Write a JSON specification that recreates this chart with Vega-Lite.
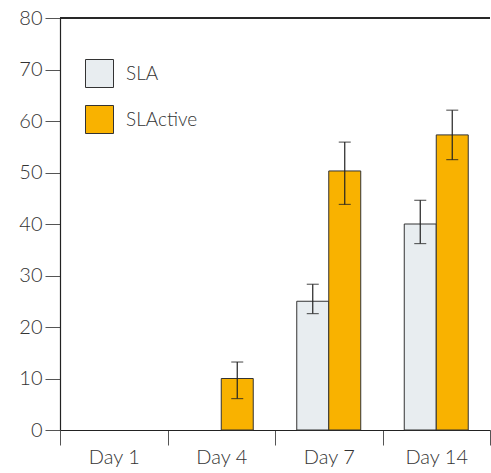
{
  "$schema": "https://vega.github.io/schema/vega-lite/v6.json",
  "width": 430,
  "height": 412,
  "autosize": {"type": "none"},
  "padding": {"left": 60, "top": 18, "right": 1, "bottom": 43},
  "background": "white",
  "config": {
    "view": {"stroke": null},
    "font": "Lato",
    "axis": {"labelFont": "Lato", "labelFontSize": 20, "labelColor": "#333333", "domainColor": "#222222", "tickColor": "#555555", "grid": false, "title": null, "labelFontWeight": 300}
  },
  "data": {
    "values": [
      {"day": "Day 4", "group": "SLActive", "value": 10, "lo": 6.1, "hi": 13.2},
      {"day": "Day 7", "group": "SLA", "value": 25, "lo": 22.6, "hi": 28.3},
      {"day": "Day 7", "group": "SLActive", "value": 50.3, "lo": 43.8, "hi": 55.9},
      {"day": "Day 14", "group": "SLA", "value": 40, "lo": 36.2, "hi": 44.6},
      {"day": "Day 14", "group": "SLActive", "value": 57.3, "lo": 52.5, "hi": 62.1}
    ]
  },
  "layer": [
    {
      "mark": {"type": "bar", "stroke": "#333333", "strokeWidth": 1},
      "encoding": {
        "x": {"field": "day", "type": "nominal", "scale": {"domain": ["Day 1", "Day 4", "Day 7", "Day 14"], "paddingInner": 0, "paddingOuter": 0},
              "axis": {"labelAngle": 0, "tickSize": 15, "tickBand": "extent", "labelPadding": 2, "domainWidth": 1.2}},
        "xOffset": {"field": "group", "type": "nominal", "scale": {"domain": ["SLA", "SLActive"], "paddingInner": 0, "paddingOuter": 0.68}},
        "y": {"field": "value", "type": "quantitative", "scale": {"domain": [0, 80], "nice": false},
              "axis": {"values": [0, 10, 20, 30, 40, 50, 60, 70, 80], "tickSize": 15, "labelPadding": 3, "domainWidth": 1.2}},
        "fill": {"field": "group", "type": "nominal",
                 "scale": {"domain": ["SLA", "SLActive"], "range": ["#e8edf0", "#f9b200"]},
                 "legend": {"title": null, "orient": "none", "legendX": 25, "legendY": 41, "symbolType": "square", "symbolSize": 784, "symbolStrokeColor": "#333333", "symbolStrokeWidth": 1, "labelFontSize": 19, "labelFont": "Lato", "labelFontWeight": 300, "labelColor": "#333333", "rowPadding": 13, "labelOffset": 12}}
      }
    },
    {
      "mark": {"type": "rule", "color": "#222222", "strokeWidth": 1.2},
      "encoding": {
        "x": {"field": "day", "type": "nominal"},
        "xOffset": {"field": "group", "type": "nominal"},
        "y": {"field": "lo", "type": "quantitative"},
        "y2": {"field": "hi"}
      }
    },
    {
      "mark": {"type": "tick", "color": "#222222", "size": 12, "thickness": 1.2},
      "encoding": {
        "x": {"field": "day", "type": "nominal"},
        "xOffset": {"field": "group", "type": "nominal"},
        "y": {"field": "lo", "type": "quantitative"}
      }
    },
    {
      "mark": {"type": "tick", "color": "#222222", "size": 12, "thickness": 1.2},
      "encoding": {
        "x": {"field": "day", "type": "nominal"},
        "xOffset": {"field": "group", "type": "nominal"},
        "y": {"field": "hi", "type": "quantitative"}
      }
    },
    {
      "mark": {"type": "rule", "color": "#222222", "strokeWidth": 1.2},
      "encoding": {"y": {"datum": 80}}
    }
  ]
}
